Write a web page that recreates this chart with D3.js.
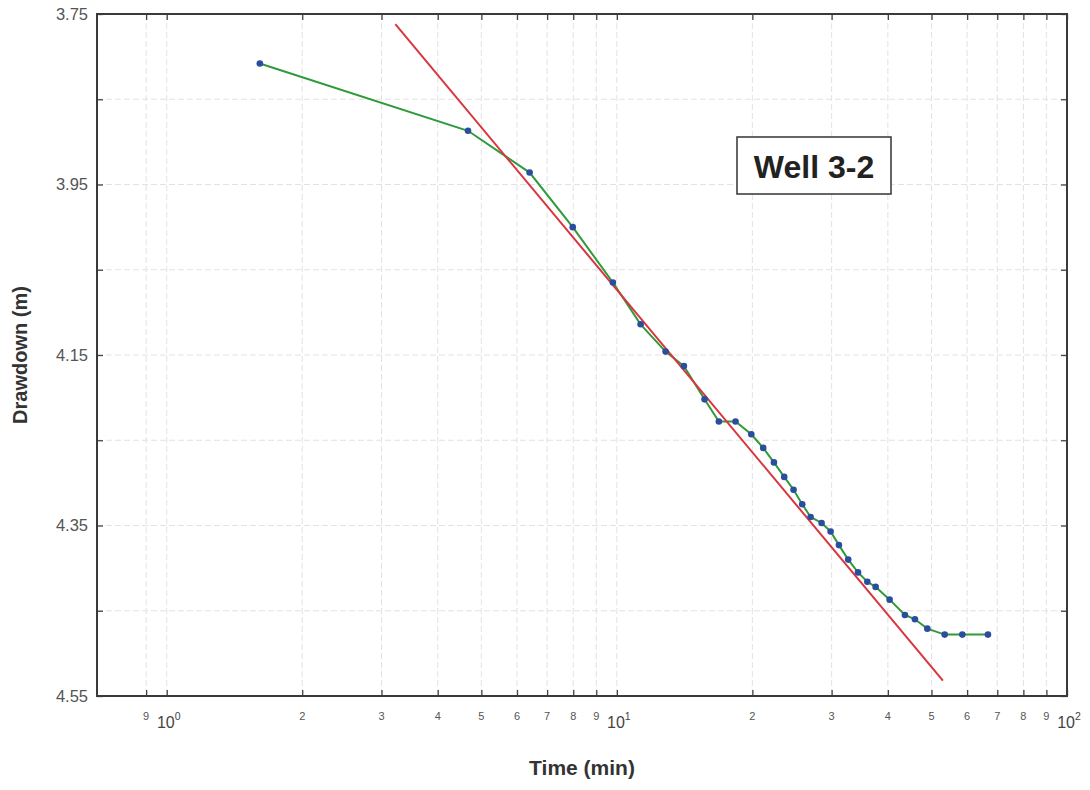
<!DOCTYPE html>
<html>
<head>
<meta charset="utf-8">
<script src="https://cdn.jsdelivr.net/npm/d3@7"></script>
<style>
  html, body { margin: 0; padding: 0; background: #fff; }
  svg { display: block; font-family: "Liberation Sans", Arial, sans-serif; }
</style>
</head>
<body>
<svg id="chart" width="1090" height="790"></svg>
<script>
// ---- data ----
const timeMin = [1.61, 4.67, 6.40, 7.98, 9.80, 11.29, 12.83, 14.09, 15.66, 16.85, 18.35, 19.89, 21.14, 22.33, 23.54, 24.69, 25.81, 26.94, 28.5, 29.84, 31.14, 32.66, 34.33, 36.01, 37.57, 40.36, 43.65, 45.94, 48.94, 53.49, 58.54, 66.74];
const drawdown = [3.808, 3.887, 3.936, 4.000, 4.065, 4.114, 4.146, 4.163, 4.202, 4.228, 4.228, 4.243, 4.259, 4.276, 4.293, 4.308, 4.325, 4.340, 4.347, 4.357, 4.373, 4.390, 4.405, 4.416, 4.422, 4.437, 4.455, 4.460, 4.471, 4.478, 4.478, 4.478];
const fitTime = [3.22, 53.0];
const fitDrawdown = [3.762, 4.532];
const xTickValues = [0.9, 1, 2, 3, 4, 5, 6, 7, 8, 9, 10, 20, 30, 40, 50, 60, 70, 80, 90, 100];
const decadeValues = [1, 10, 100];
const decadeExponents = ["0", "1", "2"];
const yTickValues = [3.75, 3.85, 3.95, 4.05, 4.15, 4.25, 4.35, 4.45, 4.55];
const yLabelValues = [3.75, 3.95, 4.15, 4.35, 4.55];
const yLabels = ["3.75", "3.95", "4.15", "4.35", "4.55"];
const titleText = "Well 3-2";
const xAxisTitle = "Time (min)";
const yAxisTitle = "Drawdown (m)";

// ---- layout ----
const L = 97, R = 1067, T = 14, B = 696;
const svg = d3.select("#chart");
const x = d3.scaleLog().domain([0.7, 100]).range([L, R]);
const y = d3.scaleLinear().domain([3.75, 4.55]).range([T, B]);

// grid
const grid = svg.append("g");
grid.selectAll("line.vg").data(xTickValues.filter(v => v < 100)).join("line")
  .attr("x1", d => x(d)).attr("x2", d => x(d)).attr("y1", T).attr("y2", B)
  .attr("stroke", "#e2e2e2").attr("stroke-width", 1).attr("stroke-dasharray", "6,3");
grid.selectAll("line.hg").data(yTickValues.slice(1, -1)).join("line")
  .attr("x1", L).attr("x2", R).attr("y1", d => y(d)).attr("y2", d => y(d))
  .attr("stroke", "#e2e2e2").attr("stroke-width", 1).attr("stroke-dasharray", "6,3");

// axes via d3 axis with inward ticks
const tickLen = 6;
const fmtNone = () => "";
svg.append("g").attr("transform", `translate(0,${B})`)
  .call(d3.axisTop(x).tickValues(xTickValues).tickSize(tickLen).tickFormat(fmtNone));
svg.append("g").attr("transform", `translate(0,${T})`)
  .call(d3.axisBottom(x).tickValues(xTickValues).tickSize(tickLen).tickFormat(fmtNone));
svg.append("g").attr("transform", `translate(${L},0)`)
  .call(d3.axisRight(y).tickValues(yTickValues).tickSize(tickLen).tickFormat(fmtNone));
svg.append("g").attr("transform", `translate(${R},0)`)
  .call(d3.axisLeft(y).tickValues(yTickValues).tickSize(tickLen).tickFormat(fmtNone));
svg.selectAll(".domain").remove();
svg.selectAll(".tick line").attr("stroke", "#444").attr("stroke-width", 1.3);

// frame
svg.append("rect").attr("x", L).attr("y", T).attr("width", R - L).attr("height", B - T)
  .attr("fill", "none").attr("stroke", "#3a3a3a").attr("stroke-width", 2);

// x tick labels
const minorVals = xTickValues.filter(v => !decadeValues.includes(v));
svg.append("g").selectAll("text").data(minorVals).join("text")
  .attr("x", d => x(d)).attr("y", 720)
  .attr("text-anchor", "middle").attr("font-size", 11).attr("fill", "#555")
  .text(d => String(Math.round(d / Math.pow(10, Math.floor(Math.log10(d) + 1e-9)))));
const dec = svg.append("g").selectAll("text").data(decadeValues).join("text")
  .attr("x", d => x(d) + 2).attr("y", 728)
  .attr("text-anchor", "middle").attr("font-size", 16).attr("fill", "#444");
dec.append("tspan").text("10");
dec.append("tspan").attr("font-size", 10.5).attr("dy", -8).text((d, i) => decadeExponents[i]);

// y tick labels
svg.append("g").selectAll("text").data(yLabelValues).join("text")
  .attr("x", 88).attr("y", d => y(d)).attr("dy", "0.36em")
  .attr("text-anchor", "end").attr("font-size", 16.5).attr("fill", "#555")
  .text((d, i) => yLabels[i]);

// axis titles
svg.append("text").attr("x", 582).attr("y", 775).attr("text-anchor", "middle")
  .attr("font-size", 21).attr("font-weight", "bold").attr("fill", "#333").text(xAxisTitle);
svg.append("text").attr("transform", "translate(27,355) rotate(-90)").attr("text-anchor", "middle")
  .attr("font-size", 20).attr("font-weight", "bold").attr("fill", "#333").text(yAxisTitle);

// data line
const pts = timeMin.map((t, i) => [t, drawdown[i]]);
svg.append("path").datum(pts)
  .attr("d", d3.line().x(d => x(d[0])).y(d => y(d[1])))
  .attr("fill", "none").attr("stroke", "#2f9a3a").attr("stroke-width", 2);

// fit line
const fitPts = fitTime.map((t, i) => [t, fitDrawdown[i]]);
svg.append("path").datum(fitPts)
  .attr("d", d3.line().x(d => x(d[0])).y(d => y(d[1])))
  .attr("fill", "none").attr("stroke", "#d8363f").attr("stroke-width", 2);

// markers
svg.append("g").selectAll("circle").data(pts).join("circle")
  .attr("cx", d => x(d[0])).attr("cy", d => y(d[1])).attr("r", 3.3)
  .attr("fill", "#2b4d9e");

// title box
const box = svg.append("g");
box.append("rect").attr("x", 737).attr("y", 137).attr("width", 154).attr("height", 57)
  .attr("fill", "#fff").attr("stroke", "#333").attr("stroke-width", 1.5);
box.append("text").attr("x", 814).attr("y", 166).attr("dy", "0.36em").attr("text-anchor", "middle")
  .attr("font-size", 32).attr("font-weight", "bold").attr("fill", "#222").text(titleText);
</script>
</body>
</html>
